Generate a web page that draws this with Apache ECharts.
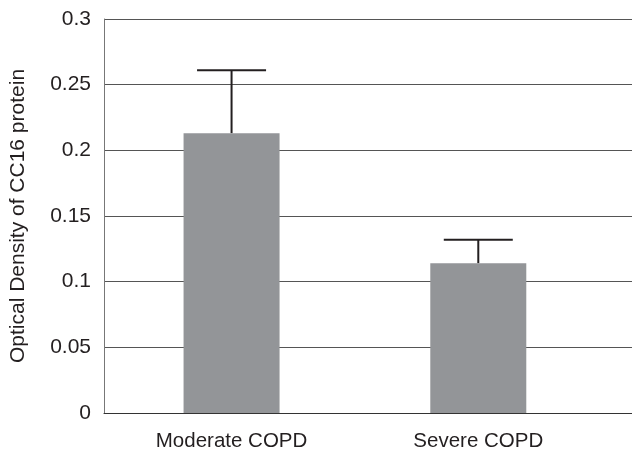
<!DOCTYPE html>
<html>
<head>
<meta charset="utf-8">
<script src="https://cdn.jsdelivr.net/npm/echarts@6/dist/echarts.min.js"></script>
<style>html,body{margin:0;padding:0;background:#fff}#c{width:632px;height:452px}</style>
</head>
<body>
<div id="c"></div>
<script>
var categories = ['Moderate COPD', 'Severe COPD'];
var means = [0.213, 0.114];
var errorTops = [0.261, 0.132];
var yTicks = [0, 0.05, 0.1, 0.15, 0.2, 0.25, 0.3];
var yTickLabels = ['0', '0.05', '0.1', '0.15', '0.2', '0.25', '0.3'];

var chart = echarts.init(document.getElementById('c'), null, {renderer: 'canvas'});
var FONT = 'Liberation Sans, Arial, sans-serif';
var barData = means.map(function (v, i) { return [i, v]; });
var errData = means.map(function (v, i) { return [i, v, errorTops[i]]; });

chart.setOption({
  animation: false,
  backgroundColor: '#fff',
  grid: {left: 103, right: 0, top: 19, bottom: 38},
  xAxis: {
    type: 'value',
    min: -0.517,
    max: 1.623,
    splitLine: {show: false},
    axisTick: {show: false},
    axisLine: {show: true, onZero: false, lineStyle: {color: '#333', width: 1}},
    axisLabel: {
      customValues: [0, 1],
      formatter: function (v) { return categories[Math.round(v)]; },
      color: '#231f20', fontFamily: FONT, fontSize: 20.5, margin: 18
    }
  },
  yAxis: {
    type: 'value',
    min: 0, max: 0.3, interval: 0.05,
    name: 'Optical Density of CC16 protein',
    nameLocation: 'middle',
    nameGap: 75,
    nameTextStyle: {color: '#231f20', fontFamily: FONT, fontSize: 21},
    axisLine: {show: true, onZero: false, lineStyle: {color: '#777', width: 1}},
    axisTick: {show: false},
    splitLine: {show: true, lineStyle: {color: '#555', width: 1}},
    axisLabel: {
      color: '#231f20', fontFamily: FONT, fontSize: 21, margin: 13,
      formatter: function (v) {
        var i = yTicks.findIndex(function (t) { return Math.abs(t - v) < 1e-9; });
        return i >= 0 ? yTickLabels[i] : '';
      }
    }
  },
  series: [
    {
      type: 'bar',
      data: barData,
      barWidth: 96,
      itemStyle: {color: '#939598'},
      z: 2
    },
    {
      type: 'custom',
      data: errData,
      z: 1,
      renderItem: function (params, api) {
        var x = api.value(0);
        var base = api.coord([x, api.value(1)]);
        var top = api.coord([x, api.value(2)]);
        var half = 34.5;
        return {
          type: 'group',
          children: [
            {type: 'line', shape: {x1: base[0], y1: base[1], x2: top[0], y2: top[1]},
             style: {stroke: '#231f20', lineWidth: 2}},
            {type: 'line', shape: {x1: top[0] - half, y1: top[1], x2: top[0] + half, y2: top[1]},
             style: {stroke: '#231f20', lineWidth: 2}}
          ]
        };
      }
    }
  ]
});
</script>
</body>
</html>
